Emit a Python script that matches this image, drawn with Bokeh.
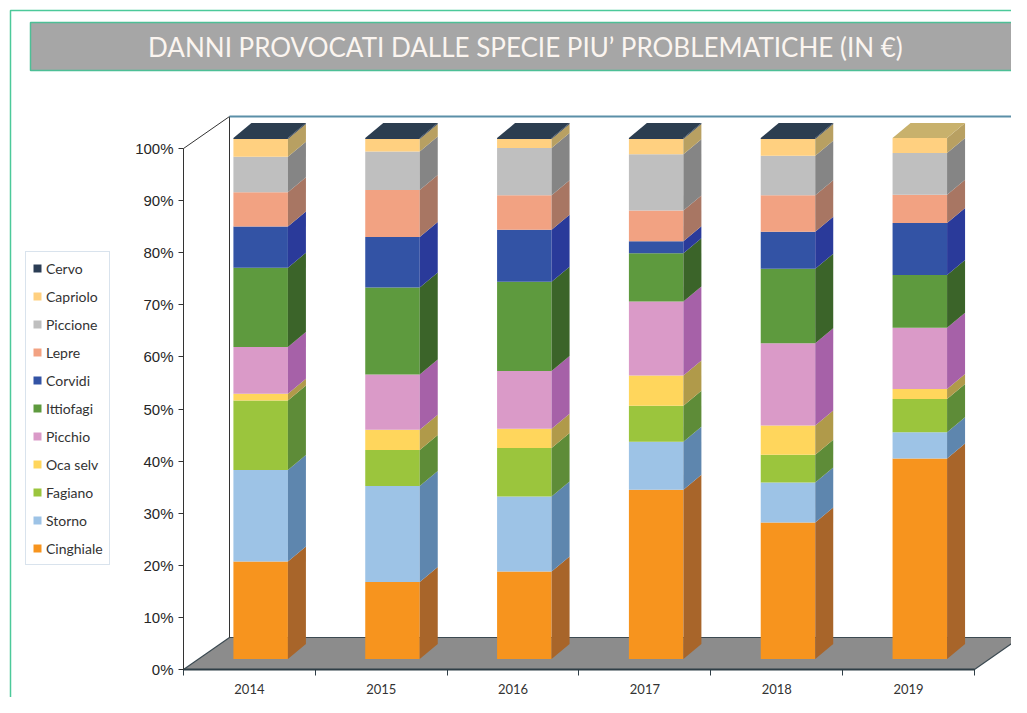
import numpy as np
from bokeh.plotting import figure
from bokeh.models import (Range1d, LinearAxis, FixedTicker, NumeralTickFormatter,
                          Legend, LegendItem, ColumnDataSource)
from bokeh.core.properties import value
from bokeh.embed import file_html
from bokeh.resources import INLINE

# ---------------- data (share of damages, %) ----------------
YEARS = ["2014", "2015", "2016", "2017", "2018", "2019"]
SPECIES = ["Cinghiale", "Storno", "Fagiano", "Oca selv", "Picchio", "Ittiofagi",
           "Corvidi", "Lepre", "Piccione", "Capriolo", "Cervo"]
cinghiale = [18.7, 14.8, 16.8, 32.5, 26.2, 38.5]
storno = [17.6, 18.4, 14.4, 9.2, 7.7, 5.0]
fagiano = [13.3, 6.9, 9.3, 6.9, 5.3, 6.4]
oca_selv = [1.3, 3.9, 3.7, 5.8, 5.6, 1.9]
picchio = [9.0, 10.6, 11.1, 14.2, 15.8, 11.8]
ittiofagi = [15.2, 16.7, 17.1, 9.3, 14.3, 10.1]
corvidi = [7.9, 9.7, 10.0, 2.3, 7.1, 10.0]
lepre = [6.6, 9.0, 6.6, 5.9, 7.0, 5.4]
piccione = [6.8, 7.4, 9.1, 10.8, 7.6, 8.0]
capriolo = [3.4, 2.4, 1.7, 2.9, 3.2, 2.9]
cervo = [0.2, 0.2, 0.2, 0.2, 0.2, 0.0]
Y_TICKS = [0, 0.1, 0.2, 0.3, 0.4, 0.5, 0.6, 0.7, 0.8, 0.9, 1.0]
TITLE = "DANNI PROVOCATI DALLE SPECIE PIU’ PROBLEMATICHE (IN €)"

SERIES = [cinghiale, storno, fagiano, oca_selv, picchio, ittiofagi,
          corvidi, lepre, piccione, capriolo, cervo]
FRONT = ["#F7941E", "#9DC3E6", "#9BC53D", "#FFD65C", "#DA9AC8", "#5E9A3E",
         "#3353A5", "#F2A282", "#BFBFBF", "#FFD080", "#2B3D55"]
SIDE = ["#A8652A", "#5E86AE", "#5E8C38", "#B09A4A", "#A661A8", "#3B6429",
        "#2A3A9A", "#A87663", "#858585", "#B8A062", "#2C3D52"]
TOPC = ["#C07A30", "#7FA8CC", "#7FAA40", "#D8BC58", "#C080B8", "#4A7E34",
        "#2E44A0", "#C88C74", "#A0A0A0", "#C8B16C", "#2C3E50"]

# ---------------- geometry (pixels of the canvas) ----------------
W, H = 1011, 697
SX = 131.83          # px per category unit
SY = 521.0           # px per 100%
X0, Y0 = 183, 669    # canvas px of data origin

def fx(px):
    return (px - X0) / SX

def fy(py):
    return (Y0 - py) / SY

DXF, DYF = 46 / SX, 32 / SY       # depth of the whole floor / walls
DXB, DYB = 18 / SX, 15 / SY       # depth of each bar
BL, BR = -16 / SX, 38.5 / SX      # front face left / right from category centre
B0 = 10.5 / SY                    # bar base above the front edge

p = figure(width=W, height=H, output_backend="svg", toolbar_location=None,
           x_range=Range1d(fx(0), fx(W)), y_range=Range1d(fy(H), fy(0)),
           min_border=0, min_border_left=0, min_border_right=0,
           min_border_top=0, min_border_bottom=0)
p.xaxis.visible = False
p.yaxis.visible = False
p.xgrid.visible = False
p.ygrid.visible = False
p.background_fill_color = "white"
p.border_fill_color = "white"
p.outline_line_color = None

ncat = len(YEARS)

# page frame
p.quad(left=fx(10), right=fx(1022), top=fy(10), bottom=fy(720),
       fill_color=None, line_color="#4CC99A", line_width=1.5)

# title box
p.quad(left=fx(30), right=fx(1022), top=fy(22), bottom=fy(70),
       fill_color="#A6A6A6", line_color="#4DBF96", line_width=1.5)
p.text(x=[fx(525)], y=[fy(46)], text=[TITLE], text_align="center",
       text_baseline="middle", text_color="#FBF5F0",
       text_font=value("Lato"), text_font_size="26px")

# floor and walls
p.patch(x=[0, ncat, ncat + DXF, DXF], y=[0, 0, DYF, DYF],
        fill_color="#8C8C8C", line_color="#3C4A52", line_width=1.2)
p.segment(x0=[0, DXF, DXF], y0=[1, DYF, 1 + DYF],
          x1=[DXF, DXF, ncat + DXF], y1=[1 + DYF, 1 + DYF, 1 + DYF],
          line_color=["#333333", "#333333", "#5B8FA8"], line_width=[1, 1, 2])
p.segment(x0=[ncat + DXF], y0=[DYF], x1=[ncat + DXF], y1=[1 + DYF],
          line_color="#3D6070", line_width=1.5)

# stacked 3D bars
vals = np.array(SERIES, dtype=float)
shares = vals / vals.sum(axis=0)
tops = np.cumsum(shares, axis=0) + B0
bots = tops - shares
cx = np.arange(ncat) + 0.5
left = cx + BL
right = cx + BR

renderers = []
for k, name in enumerate(SPECIES):
    src = ColumnDataSource(dict(x=(left + right) / 2, bottom=bots[k], top=tops[k]))
    r = p.vbar(x="x", width=BR - BL, bottom="bottom", top="top", source=src,
               fill_color=FRONT[k], line_color=None)
    renderers.append(r)
    xs = [[right[i], right[i] + DXB, right[i] + DXB, right[i]] for i in range(ncat)]
    ys = [[bots[k][i], bots[k][i] + DYB, tops[k][i] + DYB, tops[k][i]] for i in range(ncat)]
    p.patches(xs=xs, ys=ys, fill_color=SIDE[k], line_color=None)

# top faces (colour of the highest non-empty series)
for i in range(ncat):
    kt = max(k for k in range(len(SPECIES)) if shares[k][i] > 0)
    T = tops[kt][i]
    p.patch(x=[left[i], right[i], right[i] + DXB, left[i] + DXB],
            y=[T, T, T + DYB, T + DYB], fill_color=TOPC[kt], line_color=None)

# axes drawn at fixed locations
yax = LinearAxis(fixed_location=0, bounds=(0, 1),
                 ticker=FixedTicker(ticks=Y_TICKS),
                 formatter=NumeralTickFormatter(format="0%"))
yax.axis_line_color = "#333333"
yax.major_tick_line_color = "#333333"
yax.major_tick_out = 5
yax.major_tick_in = 0
yax.minor_tick_out = 0
yax.minor_tick_in = 0
yax.major_label_standoff = 5
yax.major_label_text_font = "Liberation Sans"
yax.major_label_text_font_size = "15px"
yax.major_label_text_color = "#262626"
p.add_layout(yax, "left")

xax = LinearAxis(fixed_location=0, bounds=(0, ncat),
                 ticker=FixedTicker(ticks=list(range(ncat + 1))),
                 major_label_overrides={i: "" for i in range(ncat + 1)})
xax.axis_line_color = "#2F3E46"
xax.axis_line_width = 2
xax.major_tick_line_color = "#2F3E46"
xax.major_tick_out = 6
xax.major_tick_in = 0
xax.minor_tick_out = 0
xax.minor_tick_in = 0
p.add_layout(xax, "below")

xlab = LinearAxis(fixed_location=0, ticker=FixedTicker(ticks=list(cx)),
                  major_label_overrides={float(c): y for c, y in zip(cx, YEARS)})
xlab.axis_line_color = None
xlab.major_tick_line_color = None
xlab.minor_tick_line_color = None
xlab.major_label_standoff = 8
xlab.major_label_text_font = "Lato"
xlab.major_label_text_font_size = "13px"
xlab.major_label_text_color = "#333333"
p.add_layout(xlab, "below")

# legend
items = [LegendItem(label=SPECIES[k], renderers=[renderers[k]])
         for k in reversed(range(len(SPECIES)))]
legend = Legend(items=items, location=(25, 132), orientation="vertical",
                border_line_color="#B4C8DC", border_line_width=1,
                background_fill_color="white", background_fill_alpha=1,
                padding=6, spacing=8, margin=0,
                label_height=20, glyph_height=10, glyph_width=10,
                label_standoff=4, label_text_font="Lato",
                label_text_font_size="14px", label_text_color="#333333")
p.add_layout(legend, "center")

open("out.html", "w").write(file_html(p, INLINE))
